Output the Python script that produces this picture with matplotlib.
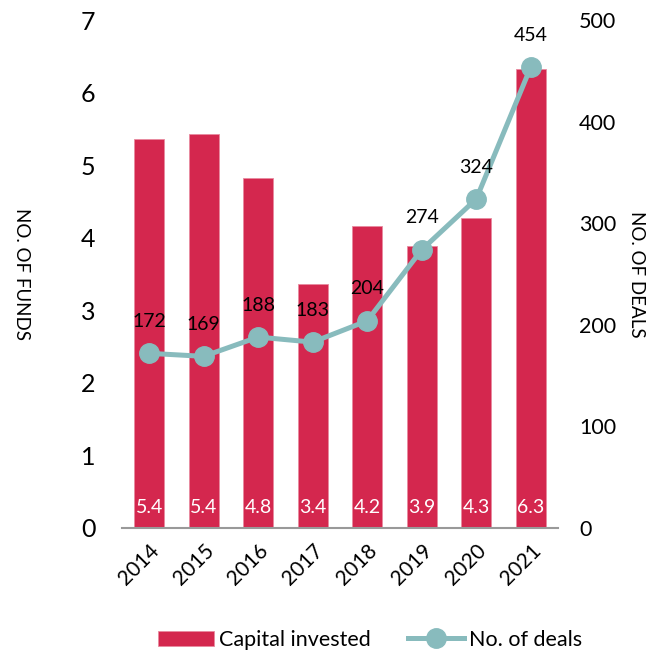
import matplotlib
matplotlib.use('Agg')
import matplotlib.pyplot as plt
import numpy as np

years = ['2014', '2015', '2016', '2017', '2018', '2019', '2020', '2021']
capital = [5.36, 5.43, 4.82, 3.37, 4.17, 3.89, 4.27, 6.33]
deals = [172, 169, 188, 183, 204, 274, 324, 454]

plt.rcParams['font.family'] = ['Lato', 'DejaVu Sans']

bar_color = '#D4274E'
line_color = '#88BBBD'

fig = plt.figure(figsize=(6.55, 6.55), dpi=100)
ax = fig.add_axes([0.186, 0.194, 0.666, 0.775])
x = np.arange(len(years))

ax.bar(x, capital, width=0.55, color=bar_color, edgecolor='#E88A9F', linewidth=0.6,
       label='Capital invested', zorder=2)
for xi, v in zip(x, capital):
    ax.text(xi, 0.28, f'{v:.1f}', ha='center', va='center', color='white', fontsize=14)

ax.set_xlim(-0.5, len(years) - 0.5)
ax.set_ylim(0, 7)
ax.set_yticks(range(0, 8))
ax.set_xticks(x)
ax.set_xticklabels(years, rotation=45, ha='right', rotation_mode='anchor', fontsize=15)
ax.tick_params(axis='y', length=0, labelsize=18, pad=19)
ax.tick_params(axis='x', length=0, pad=9)
for s in ['top', 'left', 'right']:
    ax.spines[s].set_visible(False)
ax.spines['bottom'].set_color('#999999')
ax.spines['bottom'].set_linewidth(1.5)
ax.set_ylabel('NO. OF FUNDS', rotation=270, fontsize=13.5, va='center')
ax.yaxis.set_label_coords(-0.23, 0.5)

ax2 = ax.twinx()
ax2.plot(x, deals, color=line_color, linewidth=3.6, marker='o', markersize=14,
         label='No. of deals', zorder=3)
for xi, v in zip(x, deals):
    ax2.annotate(str(v), (xi, v), xytext=(0, 23), textcoords='offset points',
                 ha='center', va='center', fontsize=14)
ax2.set_ylim(0, 500)
ax2.set_yticks(range(0, 501, 100))
ax2.tick_params(axis='y', length=0, labelsize=15.5, pad=15)
for s in ['top', 'left', 'right', 'bottom']:
    ax2.spines[s].set_visible(False)
ax2.set_ylabel('NO. OF DEALS', rotation=270, fontsize=13.5, va='center')
ax2.yaxis.set_label_coords(1.18, 0.5)

h1, l1 = ax.get_legend_handles_labels()
h2, l2 = ax2.get_legend_handles_labels()
fig.legend(h1 + h2, l1 + l2, loc='center', bbox_to_anchor=(0.565, 0.023), ncol=2,
           frameon=False, fontsize=15.5, handlelength=2.6, columnspacing=1.7,
           handletextpad=0.25)

fig.savefig('out.png', dpi=100)
